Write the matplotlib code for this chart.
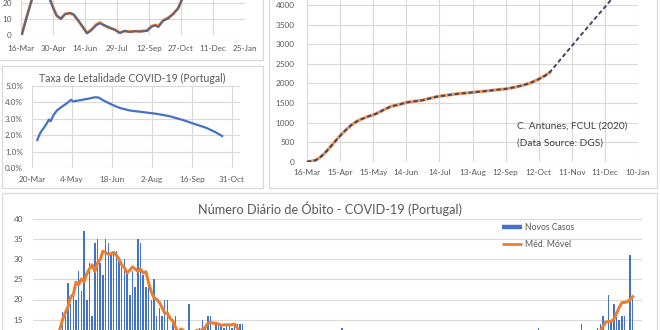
#!/usr/bin/python3
# -*- coding: utf-8 -*-

import numpy as np
import matplotlib
matplotlib.use("Agg")
import matplotlib.pyplot as plt
import matplotlib.dates as mdates
from matplotlib.patches import Rectangle
from matplotlib.lines import Line2D
from matplotlib.ticker import FuncFormatter

plt.rcParams['font.family'] = ['Lato', 'DejaVu Sans']

# Excel-like colours
BLUE = '#4472C4'
ORANGE = '#ED7D31'
SLATE = '#56658A'
GRID = '#D9D9D9'
TXT = '#595959'

W, H = 660, 330  # [px] figure size

# ---------------- data ----------------
# Top-left panel (cropped), days after 16-Mar
tlDays = [1, 8, 15, 22, 29, 36, 41, 46, 50, 56, 62, 69, 74, 81, 88, 93, 99, 106, 111,
          118, 125, 132, 139, 146, 153, 160, 167, 177, 184, 189, 193, 200, 207, 214, 221, 226, 232]
tlSlate = [0, 11, 21.6, 30, 33, 29, 21.6, 15.9, 12.4, 9.9, 13.0, 13.8, 13.0, 8.9, 4.1, 1.0, 3.1,
           6.2, 7.3, 6.0, 4.7, 3.1, 1.2, 2.7, 1.8, 2.5, 2.1, 2.5, 5.2, 6.0, 5.0, 8.9, 10.3, 13.4,
           16.5, 21.6, 27]
tlOrange = [0, 11.5, 22, 30, 33, 29, 22, 16.5, 12.0, 10.3, 13.2, 13.5, 12.6, 8.6, 4.4, 1.3, 3.3,
            6.6, 7.8, 5.6, 4.3, 3.4, 1.5, 2.4, 2.1, 2.3, 2.4, 2.8, 5.6, 6.3, 5.4, 9.2, 10.8, 13.0,
            16.9, 22, 27]

# Lethality rate, days after 20-Mar [%]
letDays = [6, 8, 10, 14, 17, 19, 21, 24, 28, 33, 39, 44, 46, 54, 62, 71, 75, 80, 90, 99, 110,
           125, 140, 155, 170, 182, 196, 206, 214]
letRate = [1.71, 2.0, 2.2, 2.5, 2.75, 2.95, 2.85, 3.2, 3.5, 3.7, 3.93, 4.15, 4.05, 4.12, 4.2,
           4.3, 4.28, 4.12, 3.85, 3.65, 3.5, 3.4, 3.3, 3.15, 2.92, 2.7, 2.45, 2.2, 1.95]

# Cumulative deaths (observed), days after 16-Mar
cumDays = [0, 4, 8, 12, 16, 20, 24, 28, 32, 36, 40, 44, 48, 55, 62, 69, 76, 83, 90, 97, 104,
           111, 118, 125, 132, 139, 146, 153, 160, 167, 174, 181, 188, 195, 202, 209, 216, 220]
cumDeaths = [1, 12, 40, 115, 215, 340, 470, 600, 720, 830, 930, 1010, 1070, 1150, 1215, 1316,
             1410, 1455, 1510, 1540, 1564, 1614, 1662, 1689, 1717, 1740, 1756, 1778, 1796, 1818,
             1840, 1860, 1899, 1944, 2005, 2090, 2200, 2280]
# Model projection (dashed), continues after the observed data
projDays = [226, 233, 240, 247, 254, 261, 268, 275, 282, 289]
projDeaths = [2480, 2720, 2950, 3190, 3420, 3650, 3880, 4110, 4340, 4570]

# Daily deaths from 16-Mar, one list per month
dMar = [1, 1, 1, 3, 6, 2, 2, 9, 10, 10, 17, 16, 24, 19, 21, 20]
dApr = [27, 22, 37, 20, 29, 16, 34, 35, 29, 26, 35, 34, 31, 32, 32, 30, 28, 30, 27, 21,
        27, 23, 35, 34, 26, 23, 25, 20, 25, 16]
dMay = [18, 16, 20, 20, 11, 15, 16, 9, 12, 9, 9, 19, 12, 9, 6, 13, 15, 13, 16, 16,
        12, 14, 14, 14, 13, 14, 14, 13, 14, 14, 14]
dJun = [14, 7, 5, 9, 3, 6, 4, 8, 5, 3, 6, 4, 7, 5, 6, 3, 4, 9, 6, 5, 2, 6, 3, 7, 5, 4, 6, 8, 5, 4]
dJul = [6, 4, 5, 3, 7, 6, 4, 13, 5, 8, 6, 3, 5, 7, 4, 6, 5, 3, 8, 4, 5, 6, 3, 7, 4, 5, 2, 4, 6, 3, 5]
dAug = [3, 2, 4, 1, 3, 2, 5, 3, 2, 4, 1, 3, 2, 3, 4, 2, 3, 1, 2, 4, 3, 2, 3, 5, 2, 3, 4, 2, 3, 3, 2]
dSep = [3, 4, 2, 5, 3, 4, 2, 6, 3, 5, 4, 3, 6, 4, 5, 3, 7, 9, 13, 5, 6, 4, 8, 7, 5, 9, 6, 8, 10, 7]
dOct = [9, 8, 11, 7, 14, 10, 8, 9, 11, 12, 13, 14, 16, 11, 21, 15, 19, 16, 15, 16, 16, 12, 31, 21]

# Moving average
mMar = [np.nan, np.nan, np.nan, 2.3, 3.4, 4.7, 6.0, 8.0, 9.4, 12.6, 15.0, 16.7, 18.1, 20.6, 21.3, 24.3]
mApr = [23.7, 25.1, 24.4, 26.4, 27.6, 28.6, 27.0, 29.1, 29.9, 32.0, 31.7, 31.3, 31.4, 31.7, 31.0,
        30.0, 28.6, 27.9, 26.6, 27.3, 28.1, 27.6, 27.0, 27.6, 26.6, 26.9, 24.1, 21.9, 20.4, 20.0]
mMay = [19.3, 18.0, 16.6, 16.6, 15.3, 14.7, 13.1, 11.6, 12.7, 12.3, 11.3, 10.9, 11.0, 11.9, 12.4,
        12.0, 12.6, 13.0, 14.1, 14.3, 14.1, 14.1, 13.9, 13.6, 13.7, 13.7, 13.7, 13.7, 13.9, 12.9, 11.6]
mJun = [11.0, 9.4, 8.3, 6.3, 5.7, 5.4, 5.3, 5.0, 5.4, 5.6, 5.1, 5.1, 5.1, 5.1, 5.4, 5.7, 5.4, 5.1,
        5.0, 4.9, 5.0, 5.1, 5.3, 4.9, 5.4, 5.6, 5.3, 5.6, 5.1, 5.0]
mJul = [5.4, 5.3, 5.1, 5.0, 6.3, 6.3, 6.1, 6.1, 6.4, 6.3, 6.3, 5.0, 5.6, 5.1, 5.3, 5.3, 5.0, 5.1,
        5.3, 5.0, 5.1, 5.4, 4.9, 5.1, 4.9, 4.6, 4.4, 4.3, 4.1, 3.9, 3.6]
mAug = [3.3, 3.0, 3.0, 2.9, 2.9, 2.7, 2.9, 2.6, 2.9, 2.7, 2.6, 2.7, 2.7, 2.7, 2.7, 2.6, 2.4, 2.6,
        2.7, 2.6, 2.6, 2.9, 2.9, 3.1, 3.1, 3.1, 3.1, 3.1, 2.9, 3.0, 3.1]
mSep = [3.1, 3.3, 3.3, 3.6, 3.6, 3.9, 3.9, 4.1, 3.9, 4.4, 4.1, 4.4, 4.3, 4.9, 5.3, 6.0, 6.6, 6.9,
        7.4, 7.3, 7.6, 7.6, 7.7, 7.4, 6.6, 6.9, 7.6, 7.7, 8.0, 8.1]
mOct = [8.6, 8.7, 9.3, 9.4, 9.6, 9.9, 10.3, 10.1, 11.0, 11.2, 11.6, 12.1, 13.3, 14.4, 14.5, 14.6,
        15.0, 16.5, 18.0, 19.2, 19.3, 19.4, 20.0, 20.7]

daily = dMar + dApr + dMay + dJun + dJul + dAug + dSep + dOct
movAvg = mMar + mApr + mMay + mJun + mJul + mAug + mSep + mOct

START = np.datetime64('2020-03-16')
START_LET = np.datetime64('2020-03-20')


def toDates(base, days):
    return base + np.array(days, dtype='timedelta64[D]')


def box(l, t, r, b):
    # pixel box (top-left origin) -> figure fraction
    return [l / W, 1 - b / H, (r - l) / W, (b - t) / H]


def dayMon(v, pos):
    d = mdates.num2date(v)
    return f"{d.day}-{d.strftime('%b')}"


def styleAx(ax, fs=5.9, xpad=5.5, ypad=6.5):
    ax.set_facecolor('none')
    for s in ax.spines.values():
        s.set_visible(False)
    ax.tick_params(length=0, labelsize=fs, labelcolor=TXT)
    ax.tick_params(axis='x', pad=xpad)
    ax.tick_params(axis='y', pad=ypad)
    ax.grid(True, color=GRID, lw=0.8)
    ax.set_axisbelow(True)


fig = plt.figure(figsize=(W / 100, H / 100), dpi=100)
fig.patch.set_facecolor('white')

# panel frames
for (l, t, r, b) in [(-2, -10, 263, 60), (2, 66, 263, 188), (269, -10, 657, 188), (2, 193, 657, 345)]:
    fig.add_artist(Rectangle((l / W, 1 - b / H), (r - l) / W, (b - t) / H, transform=fig.transFigure,
                             fill=False, edgecolor=GRID, lw=0.9, zorder=0))

# ---- top-left panel (cropped) ----
ax1 = fig.add_axes(box(21, -29, 245, 35))
styleAx(ax1, xpad=7.0)
ax1.plot(toDates(START, tlDays), tlOrange, color=ORANGE, lw=2.0)
ax1.plot(toDates(START, tlDays), tlSlate, color=SLATE, lw=1.4)
ax1.set_ylim(0, 40)
ax1.set_yticks([0, 10, 20, 30, 40])
ax1.set_yticklabels(['0', '10', '20', '', ''])
ax1.set_xticks(toDates(START, np.arange(0, 316, 45)))
ax1.set_xlim(toDates(START, [0, 315]))
ax1.xaxis.set_major_formatter(FuncFormatter(dayMon))

# ---- lethality panel ----
ax2 = fig.add_axes(box(32, 85.7, 240, 168.3))
styleAx(ax2)
ax2.plot(toDates(START_LET, letDays), letRate, color=BLUE, lw=1.6)
ax2.set_ylim(0, 5)
ax2.set_yticks(np.arange(0, 5.1, 1))
ax2.yaxis.set_major_formatter(FuncFormatter(lambda v, p: f"{v:.1f}%"))
ax2.set_xticks(toDates(START_LET, np.arange(0, 226, 45)))
ax2.set_xlim(toDates(START_LET, [0, 234]))
ax2.xaxis.set_major_formatter(FuncFormatter(dayMon))
fig.text(132 / W, 1 - 78 / H, 'Taxa de Letalidade COVID-19 (Portugal)', ha='center', va='center',
         fontsize=7.6, color=TXT)

# ---- cumulative panel (cropped) ----
ax3 = fig.add_axes(box(307, -14.7, 638, 161.7))
styleAx(ax3, ypad=9)
ax3.plot(toDates(START, cumDays), cumDeaths, color=ORANGE, lw=2.3, alpha=0.8)
ax3.plot(toDates(START, cumDays + projDays), cumDeaths + projDeaths, color='#3A4766', lw=1.4,
         dashes=(2.2, 1.4))
ax3.set_ylim(0, 4500)
ax3.set_yticks(np.arange(0, 4501, 500))
ax3.set_yticklabels([str(v) for v in range(0, 4001, 500)] + [''])
ax3.set_xticks(toDates(START, np.arange(0, 301, 30)))
ax3.set_xlim(toDates(START, [0, 300]))
ax3.xaxis.set_major_formatter(FuncFormatter(dayMon))
fig.text(517 / W, 1 - 126 / H, 'C. Antunes, FCUL (2020)', ha='left', va='center', fontsize=7.3,
         color='#404040')
fig.text(517 / W, 1 - 143 / H, '(Data Source: DGS)', ha='left', va='center', fontsize=7.3,
         color='#404040')

# ---- daily deaths panel (cropped at the bottom) ----
ax4 = fig.add_axes(box(33, 219, 642, 380))
styleAx(ax4, ypad=7)
ax4.grid(False, axis='x')
idx = np.arange(len(daily))
ax4.bar(idx, daily, width=0.55, color=BLUE, zorder=2)
ax4.plot(np.arange(len(movAvg)), movAvg, color=ORANGE, lw=2.2, zorder=3)
ax4.set_ylim(0, 40)
ax4.set_yticks(np.arange(0, 41, 5))
ax4.set_yticklabels(['', '', '', '15', '20', '25', '30', '35', '40'])
ax4.set_xlim(-1, 225.5)
ax4.set_xticks([])
fig.text(330 / W, 1 - 209 / H, 'Número Diário de Óbito - COVID-19 (Portugal)', ha='center',
         va='center', fontsize=9.2, color=TXT)
handles = [Line2D([], [], color=BLUE, lw=3.2, solid_capstyle='butt'),
           Line2D([], [], color=ORANGE, lw=2.0, solid_capstyle='butt')]
ax4.legend(handles, ['Novos Casos', 'Méd. Móvel'], loc='upper left',
           bbox_to_anchor=(501.7 / W, 1 - 223 / H), bbox_transform=fig.transFigure,
           frameon=False, fontsize=6.2, handlelength=2.4, handletextpad=0.3, labelspacing=0.95,
           borderpad=0, borderaxespad=0, labelcolor=TXT)

fig.savefig('out.png', dpi=100)
